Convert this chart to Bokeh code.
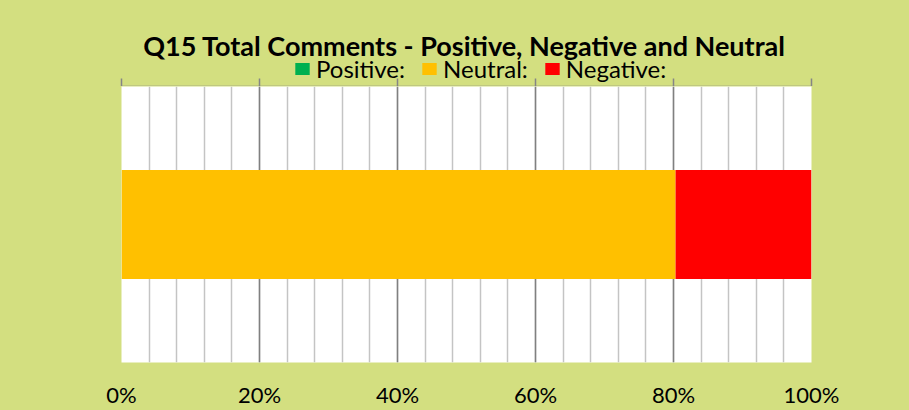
from bokeh.plotting import figure
from bokeh.layouts import column
from bokeh.models import (Range1d, FactorRange, LinearAxis, SingleIntervalTicker, Label,
                          Legend, LegendItem, ColumnDataSource, NumeralTickFormatter, Grid)
from bokeh.embed import file_html
from bokeh.resources import INLINE

# ---- data ----
categories = ["Q15"]
series = ["Positive", "Neutral", "Negative"]
legend_labels = ["Positive:", "Neutral:", "Negative:"]
positive = [0.0]
neutral = [0.803]
negative = [0.197]
colors = ["#00B050", "#FFC000", "#FF0000"]
title_text = "Q15 Total Comments - Positive, Negative and Neutral"

BG = "#D3DF80"
FONT = "Lato"
W = 909

src = ColumnDataSource(dict(cat=categories, Positive=positive, Neutral=neutral, Negative=negative))
ticker = SingleIntervalTicker(interval=0.2, num_minor_ticks=5)

# ---------- header figure: title + legend + top tick marks ----------
pt = figure(width=W, height=86, output_backend="svg", toolbar_location=None,
            x_range=Range1d(0, 1), y_range=FactorRange(*categories),
            x_axis_location=None, y_axis_location=None,
            min_border_left=121, min_border_right=98, min_border_top=0, min_border_bottom=0)
pt.background_fill_color = None
pt.border_fill_color = BG
pt.outline_line_color = None
pt.center = []
rt = pt.hbar_stack(series, y="cat", height=0, color=colors, line_color=None, source=src)

tax = LinearAxis(ticker=ticker, axis_line_color="#858585", axis_line_width=1.5,
                 major_tick_line_color="#858585", major_tick_line_width=1.5,
                 major_tick_out=0, major_tick_in=8, minor_tick_line_color=None,
                 minor_tick_in=0, minor_tick_out=0,
                 major_label_text_color=None, major_label_text_font_size="1px",
                 major_label_standoff=0)
pt.add_layout(tax, "below")

pt.add_layout(Label(x=343, y=41, x_units="screen", y_units="screen", text=title_text,
                    text_align="center", text_baseline="alphabetic", text_font=FONT,
                    text_font_style="bold", text_font_size="27px", text_color="black"))

legend = Legend(items=[LegendItem(label=l, renderers=[r]) for l, r in zip(legend_labels, rt)],
                location=(172, 3), orientation="horizontal",
                label_text_font=FONT, label_text_font_size="24px", label_text_color="black",
                glyph_width=18, glyph_height=15, label_standoff=5, spacing=15,
                padding=0, margin=0, border_line_color=None, background_fill_alpha=0)
pt.add_layout(legend, "center")

# ---------- chart figure ----------
p = figure(width=W, height=324, output_backend="svg", toolbar_location=None,
           x_range=Range1d(0, 1), y_range=FactorRange(*categories),
           x_axis_location=None, y_axis_location=None,
           min_border_left=121, min_border_right=98, min_border_top=0, min_border_bottom=48)
p.background_fill_color = "white"
p.border_fill_color = BG
p.outline_line_color = None
p.center = []

grid = Grid(dimension=0, ticker=ticker, grid_line_color="#808080", grid_line_width=1.5,
            minor_grid_line_color="#C4C4C4", minor_grid_line_width=1.5)
p.add_layout(grid, "center")

rs = p.hbar_stack(series, y="cat", height=0.395, color=colors, line_color=None, source=src)

bax = LinearAxis(ticker=ticker, formatter=NumeralTickFormatter(format="0%"),
                 axis_line_color=None, major_tick_line_color=None, minor_tick_line_color=None,
                 major_tick_out=0, major_tick_in=0, minor_tick_out=0,
                 major_label_text_font=FONT, major_label_text_font_size="22px",
                 major_label_text_color="black", major_label_standoff=18)
p.add_layout(bax, "below")

layout = column(pt, p, spacing=0)
layout.styles = {"background-color": BG}
open("out.html", "w").write(file_html(layout, INLINE))
